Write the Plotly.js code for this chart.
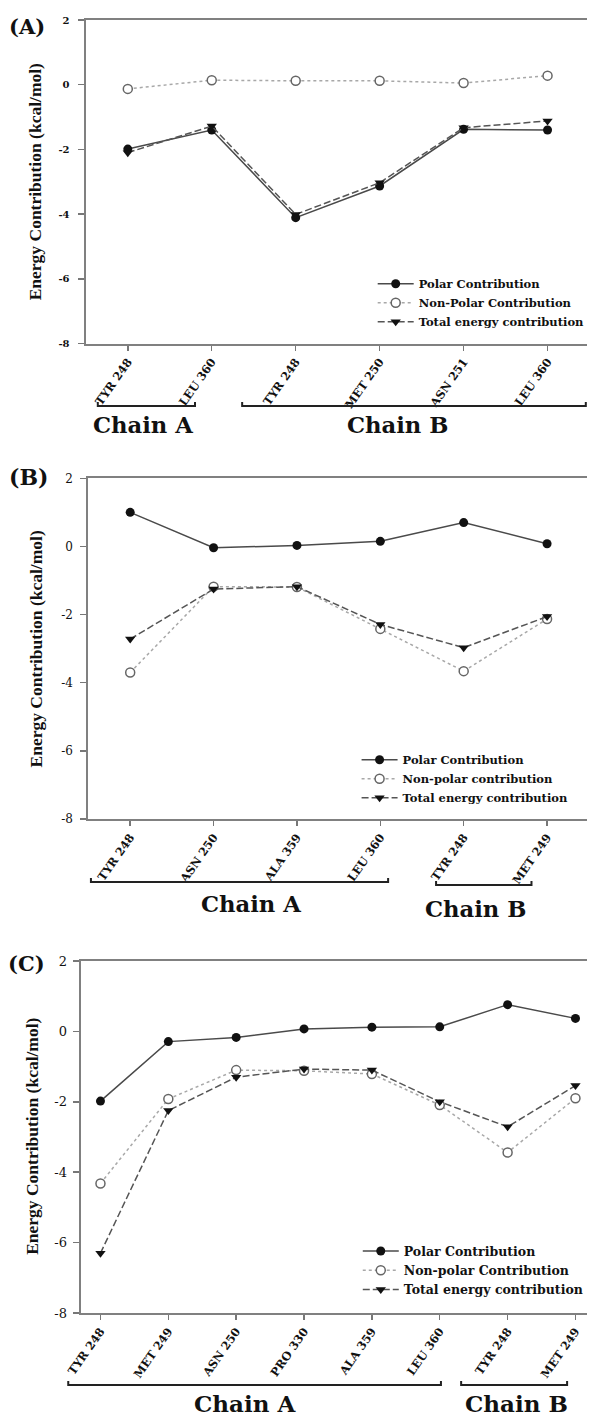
<!DOCTYPE html>
<html>
<head>
<meta charset="utf-8">
<script src="https://cdn.plot.ly/plotly-3.0.1.min.js"></script>
<style>
html,body{margin:0;padding:0;background:#ffffff;}
#chart{width:590px;height:1419px;}
</style>
</head>
<body>
<div id="chart"></div>
<script>
// ---------------- DATA ----------------
// Panel (A)
const residuesA = ['TYR 248', 'LEU 360', 'TYR 248', 'MET 250', 'ASN 251', 'LEU 360'];
const chainsA   = ['Chain A', 'Chain A', 'Chain B', 'Chain B', 'Chain B', 'Chain B'];
const polarA    = [-1.99, -1.40, -4.11, -3.13, -1.38, -1.40];
const nonPolarA = [-0.13, 0.14, 0.12, 0.12, 0.05, 0.28];
const totalA    = [-2.10, -1.28, -4.01, -3.03, -1.33, -1.12];
const namesA    = ['Polar Contribution', 'Non-Polar Contribution', 'Total energy contribution'];

// Panel (B)
const residuesB = ['TYR 248', 'ASN 250', 'ALA 359', 'LEU 360', 'TYR 248', 'MET 249'];
const chainsB   = ['Chain A', 'Chain A', 'Chain A', 'Chain A', 'Chain B', 'Chain B'];
const polarB    = [1.00, -0.04, 0.03, 0.15, 0.70, 0.08];
const nonPolarB = [-3.70, -1.18, -1.19, -2.42, -3.66, -2.13];
const totalB    = [-2.72, -1.25, -1.18, -2.29, -2.97, -2.06];
const namesB    = ['Polar Contribution', 'Non-polar contribution', 'Total energy contribution'];

// Panel (C)
const residuesC = ['TYR 248', 'MET 249', 'ASN 250', 'PRO 330', 'ALA 359', 'LEU 360', 'TYR 248', 'MET 249'];
const chainsC   = ['Chain A', 'Chain A', 'Chain A', 'Chain A', 'Chain A', 'Chain A', 'Chain B', 'Chain B'];
const polarC    = [-1.98, -0.29, -0.17, 0.07, 0.12, 0.13, 0.76, 0.37];
const nonPolarC = [-4.32, -1.92, -1.10, -1.12, -1.21, -2.09, -3.44, -1.90];
const totalC    = [-6.30, -2.25, -1.30, -1.07, -1.10, -2.00, -2.71, -1.54];
const namesC    = ['Polar Contribution', 'Non-polar Contribution', 'Total energy contribution'];

// Axes text
const yTickVals  = [2, 0, -2, -4, -6, -8];
const yTickText  = ['2', '0', '-2', '-4', '-6', '-8'];
const yTitleText = 'Energy Contribution (kcal/mol)';
const panelLabels = ['(A)', '(B)', '(C)'];

// ---------------- LAYOUT HELPERS ----------------
const W = 590, H = 1419;
const px = x => x / W;
const py = y => 1 - y / H;
const SERIF = 'DejaVu Serif';
const TIMES = 'Liberation Serif';
const INK = '#111111';

const panels = [
  { res: residuesA, chains: chainsA, data: [polarA, nonPolarA, totalA], names: namesA,
    xPix: [86, 590], xRange: [-0.503, 5.47], yPix: [20, 343.5],
    ytf: { size: 10, weight: 'bold' }, ystand: 6,
    legend: { x: 374.6, y: 269.3, size: 11.5 },
    brackets: [[98.3, 196, 406], [243.4, 588.8, 406]],
    chainPos: [[144.2, 425, 22.7], [400, 425, 22.7]],
    title: [35, 181.5], letter: [27, 27, 21] },
  { res: residuesB, chains: chainsB, data: [polarB, nonPolarB, totalB], names: namesB,
    xPix: [88.8, 590], xRange: [-0.502, 5.479], yPix: [478.3, 819],
    ytf: { size: 12, weight: 'normal' }, ystand: 5,
    legend: { x: 358.4, y: 745.3, size: 11.5 },
    brackets: [[91.4, 390.1, 882], [438.3, 534.2, 885]],
    chainPos: [[252, 904, 22.7], [477.8, 909, 22.7]],
    title: [35.7, 649], letter: [28.6, 477, 22] },
  { res: residuesC, chains: chainsC, data: [polarC, nonPolarC, totalC], names: namesC,
    xPix: [81, 590], xRange: [-0.293, 7.17], yPix: [961, 1313],
    ytf: { size: 13, weight: 'normal' }, ystand: 3,
    legend: { x: 359.6, y: 1236.4, size: 12.5 },
    brackets: [[68.6, 443.2, 1385], [463.5, 570, 1385]],
    chainPos: [[246.4, 1403, 23], [519, 1403, 23]],
    title: [32, 1136], letter: [26.6, 963, 21] }
];

const styles = [
  { mode: 'lines+markers', line: { color: '#4a4a4a', width: 1.5 },
    marker: { symbol: 'circle', size: 9, color: INK } },
  { mode: 'lines+markers', line: { color: '#a8a8a8', width: 1.5, dash: 'dot' },
    marker: { symbol: 'circle', size: 9, color: '#ffffff', line: { color: '#666666', width: 1.5 } } },
  { mode: 'lines+markers', line: { color: '#555555', width: 1.5, dash: '7px,3px' },
    marker: { symbol: 'triangle-down', size: 9, color: INK } }
];

const traces = [];
const layout = {
  width: W, height: H,
  margin: { l: 0, r: 0, t: 0, b: 0 },
  paper_bgcolor: '#ffffff', plot_bgcolor: '#ffffff',
  showlegend: true,
  shapes: [], annotations: []
};

panels.forEach((p, k) => {
  const n = k === 0 ? '' : String(k + 1);
  const xs = p.res.map((_, i) => i);
  p.data.forEach((vals, s) => {
    traces.push(Object.assign({
      type: 'scatter', x: xs, y: vals, name: p.names[s],
      xaxis: 'x' + n, yaxis: 'y' + n, legend: 'legend' + n,
      hoverinfo: 'skip'
    }, JSON.parse(JSON.stringify(styles[s]))));
  });

  layout['xaxis' + n] = {
    domain: [px(p.xPix[0]), px(p.xPix[1])], range: p.xRange, anchor: 'y' + n,
    tickmode: 'array', tickvals: xs, ticktext: p.res, tickangle: -55,
    tickfont: { family: SERIF, size: 11.5, weight: 'bold', color: INK },
    ticks: 'outside', ticklen: 5, tickwidth: 1.5, tickcolor: '#777777',
    showline: true, linecolor: '#808080', linewidth: 2, mirror: true,
    showgrid: false, zeroline: false, fixedrange: true
  };
  layout['yaxis' + n] = {
    domain: [py(p.yPix[1]), py(p.yPix[0])], range: [-8, 2], anchor: 'x' + n,
    tickmode: 'array', tickvals: yTickVals, ticktext: yTickText,
    tickfont: Object.assign({ family: SERIF, color: INK }, p.ytf),
    ticks: 'outside', ticklen: 6, tickwidth: 1.5, tickcolor: '#777777',
    ticklabelstandoff: p.ystand,
    showline: true, linecolor: '#808080', linewidth: 2, mirror: false,
    showgrid: false, zeroline: false, fixedrange: true
  };
  layout['legend' + n] = {
    x: px(p.legend.x), y: py(p.legend.y), xanchor: 'left', yanchor: 'top',
    bgcolor: 'rgba(0,0,0,0)', borderwidth: 0, itemwidth: 36, tracegroupgap: 0,
    font: { family: SERIF, size: p.legend.size, weight: 'bold', color: INK }
  };

  // chain brackets
  const chainNames = [...new Set(p.chains)];
  chainNames.forEach((c, j) => {
    const b = p.brackets[j];
    const x1 = px(b[0]), x2 = px(b[1]), y0 = py(b[2]), yU = py(b[2] - 4);
    layout.shapes.push({
      type: 'path', xref: 'paper', yref: 'paper',
      path: `M ${x1},${yU} L ${x1},${y0} L ${x2},${y0} L ${x2},${yU}`,
      line: { color: '#222222', width: 2 }
    });
    const cp = p.chainPos[j];
    layout.annotations.push({
      xref: 'paper', yref: 'paper', x: px(cp[0]), y: py(cp[1]),
      xanchor: 'center', yanchor: 'middle', showarrow: false, text: c,
      font: { family: SERIF, size: cp[2], weight: 'bold', color: INK }
    });
  });

  // y-axis title
  layout.annotations.push({
    xref: 'paper', yref: 'paper', x: px(p.title[0]), y: py(p.title[1]),
    xanchor: 'center', yanchor: 'middle', showarrow: false, textangle: -90,
    text: yTitleText,
    font: { family: TIMES, size: 17.5, weight: 'bold', color: INK }
  });
  // panel letter
  layout.annotations.push({
    xref: 'paper', yref: 'paper', x: px(p.letter[0]), y: py(p.letter[1]),
    xanchor: 'center', yanchor: 'middle', showarrow: false, text: panelLabels[k],
    font: { family: SERIF, size: p.letter[2], weight: 'bold', color: INK }
  });
});

Plotly.newPlot('chart', traces, layout, { displayModeBar: false, staticPlot: true });
</script>
</body>
</html>
